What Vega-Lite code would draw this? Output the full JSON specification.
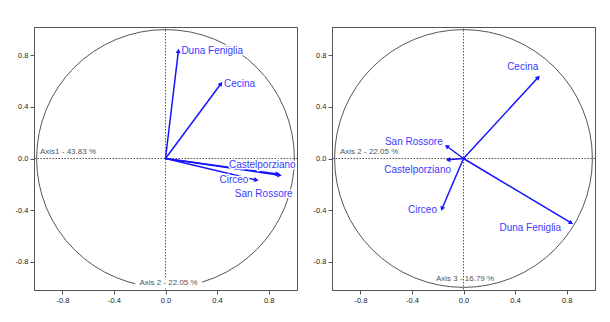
{
  "$schema": "https://vega.github.io/schema/vega-lite/v6.json",
  "background": "white",
  "padding": {"left": 14, "top": 26, "right": 0, "bottom": 0},
  "spacing": 14,
  "datasets": {
    "loadings": [
      {"site": "Duna Feniglia", "a1": 0.10, "a2": 0.835, "a3": -0.50},
      {"site": "Cecina", "a1": 0.43, "a2": 0.58, "a3": 0.63},
      {"site": "Castelporziano", "a1": 0.87, "a2": -0.12, "a3": -0.01},
      {"site": "Circeo", "a1": 0.705, "a2": -0.167, "a3": -0.39},
      {"site": "San Rossore", "a1": 0.885, "a2": -0.13, "a3": 0.095}
    ],
    "one": [{}]
  },
  "config": {
    "view": {"stroke": "#555555", "strokeWidth": 1},
    "axis": {
      "labelFont": "Liberation Sans",
      "labelFontSize": 7.5,
      "labelColor": "#222222",
      "tickColor": "#555555",
      "domainColor": "#555555",
      "tickSize": 4,
      "labelPadding": 2,
      "grid": false,
      "title": null
    },
    "text": {"font": "Liberation Sans"}
  },
  "hconcat": [
    {
      "width": 263,
      "height": 263,
      "layer": [
        {
          "data": {"name": "one"},
          "mark": {"type": "point", "shape": "circle", "size": 66460, "filled": false, "stroke": "#555555", "strokeWidth": 1, "opacity": 1},
          "encoding": {
            "x": {"datum": 0, "type": "quantitative", "scale": {"domain": [-1.02, 1.02], "nice": false, "zero": false}, "axis": {"values": [-0.8, -0.4, 0, 0.4, 0.8], "labelExpr": "replace(datum.label, '\u2212', '-')"}},
            "y": {"datum": 0, "type": "quantitative", "scale": {"domain": [-1.02, 1.02], "nice": false, "zero": false}, "axis": {"values": [-0.8, -0.4, 0, 0.4, 0.8], "labelExpr": "replace(datum.label, '\u2212', '-')"}}
          }
        },
        {
          "data": {"name": "one"},
          "mark": {"type": "rule", "strokeDash": [1.5, 1.5], "color": "#555555", "strokeWidth": 1},
          "encoding": {"x": {"datum": 0, "type": "quantitative"}}
        },
        {
          "data": {"name": "one"},
          "mark": {"type": "rule", "strokeDash": [1.5, 1.5], "color": "#555555", "strokeWidth": 1},
          "encoding": {"y": {"datum": 0, "type": "quantitative"}}
        },
        {
          "data": {"name": "loadings"},
          "mark": {"type": "rule", "color": "#1414ff", "strokeWidth": 1.5},
          "encoding": {
            "x": {"field": "a1", "type": "quantitative"},
            "y": {"field": "a2", "type": "quantitative"},
            "x2": {"datum": 0},
            "y2": {"datum": 0}
          }
        },
        {
          "data": {"name": "loadings"},
          "transform": [{"calculate": "90 - atan2(datum.a2, datum.a1) * 180 / PI", "as": "rot"}],
          "mark": {"type": "point", "shape": "triangle-up", "size": 26, "filled": true, "color": "#1414ff", "opacity": 1},
          "encoding": {
            "x": {"field": "a1", "type": "quantitative"},
            "y": {"field": "a2", "type": "quantitative"},
            "angle": {"field": "rot", "type": "quantitative", "scale": null}
          }
        },
        {
          "data": {"name": "loadings"},
          "transform": [{"filter": {"field": "site", "oneOf": ["Duna Feniglia", "Cecina"]}}],
          "encoding": {"x": {"field": "a1", "type": "quantitative"}, "y": {"field": "a2", "type": "quantitative"}, "text": {"field": "site"}},
          "layer": [
            {"mark": {"type": "text", "align": "left", "dx": 3, "dy": 0, "fontSize": 10, "fill": "white", "stroke": "white", "strokeWidth": 3, "strokeJoin": "round"}},
            {"mark": {"type": "text", "align": "left", "dx": 3, "dy": 0, "fontSize": 10, "fill": "#3b3bff"}}
          ]
        },
        {
          "data": {"name": "loadings"},
          "transform": [{"filter": {"field": "site", "equal": "Castelporziano"}}],
          "encoding": {"x": {"field": "a1", "type": "quantitative"}, "y": {"field": "a2", "type": "quantitative"}, "text": {"field": "site"}},
          "layer": [
            {"mark": {"type": "text", "align": "right", "dx": 18, "dy": -9, "fontSize": 10, "fill": "white", "stroke": "white", "strokeWidth": 3, "strokeJoin": "round"}},
            {"mark": {"type": "text", "align": "right", "dx": 18, "dy": -9, "fontSize": 10, "fill": "#3b3bff"}}
          ]
        },
        {
          "data": {"name": "loadings"},
          "transform": [{"filter": {"field": "site", "equal": "Circeo"}}],
          "encoding": {"x": {"field": "a1", "type": "quantitative"}, "y": {"field": "a2", "type": "quantitative"}, "text": {"field": "site"}},
          "layer": [
            {"mark": {"type": "text", "align": "right", "dx": -8, "dy": 0, "fontSize": 10, "fill": "white", "stroke": "white", "strokeWidth": 3, "strokeJoin": "round"}},
            {"mark": {"type": "text", "align": "right", "dx": -8, "dy": 0, "fontSize": 10, "fill": "#3b3bff"}}
          ]
        },
        {
          "data": {"name": "loadings"},
          "transform": [{"filter": {"field": "site", "equal": "San Rossore"}}],
          "encoding": {"x": {"field": "a1", "type": "quantitative"}, "y": {"field": "a2", "type": "quantitative"}, "text": {"field": "site"}},
          "layer": [
            {"mark": {"type": "text", "align": "right", "dx": 13, "dy": 19, "fontSize": 10, "fill": "white", "stroke": "white", "strokeWidth": 3, "strokeJoin": "round"}},
            {"mark": {"type": "text", "align": "right", "dx": 13, "dy": 19, "fontSize": 10, "fill": "#3b3bff"}}
          ]
        },
        {
          "data": {"name": "one"},
          "mark": {"type": "text", "align": "left", "dx": 6, "dy": -7, "fontSize": 8, "fill": "#555555", "text": "Axis1 - 43.83 %"},
          "encoding": {"x": {"datum": -1.02, "type": "quantitative"}, "y": {"datum": 0, "type": "quantitative"}}
        },
        {
          "data": {"name": "one"},
          "encoding": {"x": {"datum": 0, "type": "quantitative"}, "y": {"datum": -1.02, "type": "quantitative"}},
          "layer": [
            {"mark": {"type": "text", "align": "center", "dx": 3, "dy": -7.5, "fontSize": 8, "fill": "white", "stroke": "white", "strokeWidth": 9, "strokeJoin": "round", "text": "Axis 2 - 22.05 %"}},
            {"mark": {"type": "text", "align": "center", "dx": 3, "dy": -7.5, "fontSize": 8, "fill": "#555555", "text": "Axis 2 - 22.05 %"}}
          ]
        }
      ]
    },
    {
      "width": 263,
      "height": 263,
      "layer": [
        {
          "data": {"name": "one"},
          "mark": {"type": "point", "shape": "circle", "size": 66460, "filled": false, "stroke": "#555555", "strokeWidth": 1, "opacity": 1},
          "encoding": {
            "x": {"datum": 0, "type": "quantitative", "scale": {"domain": [-1.02, 1.02], "nice": false, "zero": false}, "axis": {"values": [-0.8, -0.4, 0, 0.4, 0.8], "labelExpr": "replace(datum.label, '\u2212', '-')"}},
            "y": {"datum": 0, "type": "quantitative", "scale": {"domain": [-1.02, 1.02], "nice": false, "zero": false}, "axis": {"values": [-0.8, -0.4, 0, 0.4, 0.8], "labelExpr": "replace(datum.label, '\u2212', '-')"}}
          }
        },
        {
          "data": {"name": "one"},
          "mark": {"type": "rule", "strokeDash": [1.5, 1.5], "color": "#555555", "strokeWidth": 1},
          "encoding": {"x": {"datum": 0, "type": "quantitative"}}
        },
        {
          "data": {"name": "one"},
          "mark": {"type": "rule", "strokeDash": [1.5, 1.5], "color": "#555555", "strokeWidth": 1},
          "encoding": {"y": {"datum": 0, "type": "quantitative"}}
        },
        {
          "data": {"name": "loadings"},
          "mark": {"type": "rule", "color": "#1414ff", "strokeWidth": 1.5},
          "encoding": {
            "x": {"field": "a2", "type": "quantitative"},
            "y": {"field": "a3", "type": "quantitative"},
            "x2": {"datum": 0},
            "y2": {"datum": 0}
          }
        },
        {
          "data": {"name": "loadings"},
          "transform": [{"calculate": "90 - atan2(datum.a3, datum.a2) * 180 / PI", "as": "rot"}],
          "mark": {"type": "point", "shape": "triangle-up", "size": 26, "filled": true, "color": "#1414ff", "opacity": 1},
          "encoding": {
            "x": {"field": "a2", "type": "quantitative"},
            "y": {"field": "a3", "type": "quantitative"},
            "angle": {"field": "rot", "type": "quantitative", "scale": null}
          }
        },
        {
          "data": {"name": "loadings"},
          "transform": [{"filter": {"field": "site", "equal": "Cecina"}}],
          "encoding": {"x": {"field": "a2", "type": "quantitative"}, "y": {"field": "a3", "type": "quantitative"}, "text": {"field": "site"}},
          "layer": [
            {"mark": {"type": "text", "align": "right", "dx": 0, "dy": -10, "fontSize": 10, "fill": "#3b3bff"}}
          ]
        },
        {
          "data": {"name": "loadings"},
          "transform": [{"filter": {"field": "site", "equal": "San Rossore"}}],
          "encoding": {"x": {"field": "a2", "type": "quantitative"}, "y": {"field": "a3", "type": "quantitative"}, "text": {"field": "site"}},
          "layer": [
            {"mark": {"type": "text", "align": "right", "dx": -4, "dy": -4, "fontSize": 10, "fill": "#3b3bff"}}
          ]
        },
        {
          "data": {"name": "loadings"},
          "transform": [{"filter": {"field": "site", "equal": "Castelporziano"}}],
          "encoding": {"x": {"field": "a2", "type": "quantitative"}, "y": {"field": "a3", "type": "quantitative"}, "text": {"field": "site"}},
          "layer": [
            {"mark": {"type": "text", "align": "right", "dx": 3, "dy": 10, "fontSize": 10, "fill": "#3b3bff"}}
          ]
        },
        {
          "data": {"name": "loadings"},
          "transform": [{"filter": {"field": "site", "equal": "Circeo"}}],
          "encoding": {"x": {"field": "a2", "type": "quantitative"}, "y": {"field": "a3", "type": "quantitative"}, "text": {"field": "site"}},
          "layer": [
            {"mark": {"type": "text", "align": "right", "dx": -5, "dy": 1, "fontSize": 10, "fill": "#3b3bff"}}
          ]
        },
        {
          "data": {"name": "loadings"},
          "transform": [{"filter": {"field": "site", "equal": "Duna Feniglia"}}],
          "encoding": {"x": {"field": "a2", "type": "quantitative"}, "y": {"field": "a3", "type": "quantitative"}, "text": {"field": "site"}},
          "layer": [
            {"mark": {"type": "text", "align": "right", "dx": -10, "dy": 5, "fontSize": 10, "fill": "#3b3bff"}}
          ]
        },
        {
          "data": {"name": "one"},
          "mark": {"type": "text", "align": "left", "dx": 8, "dy": -7, "fontSize": 8, "fill": "#555555", "text": "Axis 2 - 22.05 %"},
          "encoding": {"x": {"datum": -1.02, "type": "quantitative"}, "y": {"datum": 0, "type": "quantitative"}}
        },
        {
          "data": {"name": "one"},
          "mark": {"type": "text", "align": "center", "dx": 1.5, "dy": -11, "fontSize": 8, "fill": "#555555", "text": "Axis 3 - 16.79 %"},
          "encoding": {"x": {"datum": 0, "type": "quantitative"}, "y": {"datum": -1.02, "type": "quantitative"}}
        }
      ]
    }
  ]
}
